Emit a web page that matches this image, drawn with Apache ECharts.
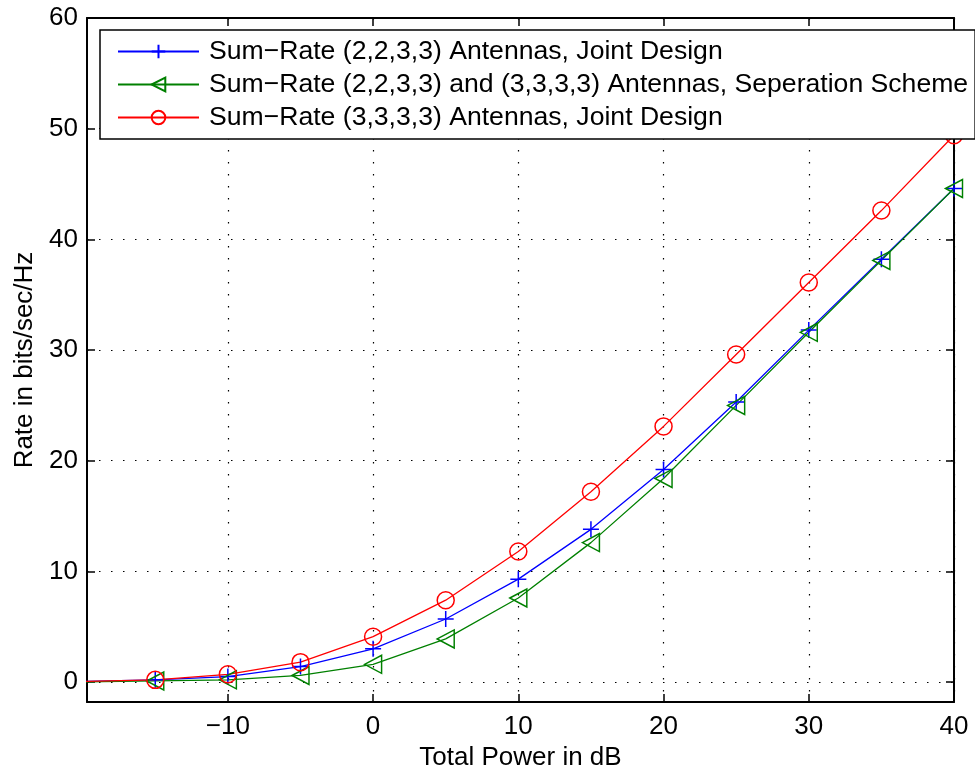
<!DOCTYPE html>
<html lang="en">
<head>
    <meta charset="UTF-8">
    <title>Sum-Rate</title>
    <script src="https://cdn.jsdelivr.net/npm/echarts@6/dist/echarts.min.js"></script>
</head>
<body style="margin:0">
<div id="my" style="width:975px;height:772px"></div>
<script>
    // x: total power in dB
    var powerDb = [-20, -15, -10, -5, 0, 5, 10, 15, 20, 25, 30, 35, 40]
    var joint2233 = [0.05, 0.2, 0.5, 1.4, 3.0, 5.7, 9.3, 13.8, 19.2, 25.3, 31.8, 38.2, 44.6]
    var separation = [0.02, 0.1, 0.2, 0.6, 1.6, 3.9, 7.6, 12.6, 18.4, 25.0, 31.6, 38.1, 44.6]
    var joint3333 = [0.06, 0.2, 0.7, 1.8, 4.1, 7.4, 11.8, 17.2, 23.1, 29.6, 36.1, 42.6, 49.4]
    var xTicks = [-10, 0, 10, 20, 30, 40]
    var yTicks = [0, 10, 20, 30, 40, 50, 60]
    var names = [
        'Sum\u2212Rate (2,2,3,3) Antennas, Joint Design',
        'Sum\u2212Rate (2,2,3,3) and (3,3,3,3) Antennas, Seperation Scheme',
        'Sum\u2212Rate (3,3,3,3) Antennas, Joint Design'
    ]

    var mCharts = echarts.init(document.getElementById('my'))
    var font = 'Liberation Sans, Arial, sans-serif'
    var fs = 26

    function pairs(ys) {
        var out = []
        for (var i = 0; i < ys.length; i++) {
            // the first point sits off the left edge, no marker there
            out.push(i === 0 ? {value: [powerDb[i], ys[i]], symbol: 'none'} : [powerDb[i], ys[i]])
        }
        return out
    }

    function mkSeries(name, ys, color, symbol, size) {
        return {
            name: name,
            type: 'line',
            data: pairs(ys),
            symbol: symbol,
            symbolSize: size,
            showAllSymbol: true,
            clip: true,
            animation: false,
            color: color,
            lineStyle: {color: color, width: 1.3},
            itemStyle: {color: 'rgba(0,0,0,0)', borderColor: color, borderWidth: 1.5}
        }
    }

    var gridLine = {show: true, lineStyle: {color: '#000', type: [1.5, 10.5], width: 1.2}}
    var tick = {show: true, inside: true, length: 8, lineStyle: {color: '#000', width: 1.5}}
    var line = {show: true, onZero: false, lineStyle: {color: '#000', width: 2}}

    var option = {
        backgroundColor: '#fff',
        textStyle: {fontFamily: font},
        grid: {left: 87, right: 21, top: 18, bottom: 70, containLabel: false, outerBoundsMode: 'none'},
        legend: {
            orient: 'vertical',
            left: 100, top: 30,
            padding: [8, 7, 8, 17],
            itemGap: 6,
            itemWidth: 81, itemHeight: 17,
            backgroundColor: '#fff',
            borderColor: '#000', borderWidth: 1.5,
            textStyle: {fontSize: 26.6, color: '#000', fontFamily: font, padding: [0, 0, 0, 5]},
            data: names
        },
        xAxis: [{
            type: 'value', min: -19.7, max: 40,
            name: 'Total Power in dB', nameLocation: 'middle', nameGap: 42,
            nameTextStyle: {fontSize: fs, color: '#000'},
            axisLine: line,
            axisTick: Object.assign({customValues: xTicks}, tick),
            axisLabel: {customValues: xTicks, fontSize: fs, color: '#000', margin: 12,
                formatter: function (v) { return v < 0 ? '\u2212' + (-v) : v }},
            splitLine: gridLine
        }, {
            type: 'value', min: -19.7, max: 40, position: 'top',
            axisLine: line,
            axisTick: Object.assign({customValues: xTicks}, tick),
            axisLabel: {show: false},
            splitLine: {show: false}
        }],
        yAxis: [{
            type: 'value', min: -1.8, max: 60,
            name: 'Rate in bits/sec/Hz', nameLocation: 'middle', nameGap: 49,
            nameTextStyle: {fontSize: fs, color: '#000'},
            axisLine: line,
            axisTick: Object.assign({customValues: yTicks}, tick),
            axisLabel: {customValues: yTicks, fontSize: fs, color: '#000', margin: 9},
            splitLine: gridLine
        }, {
            type: 'value', min: -1.8, max: 60, position: 'right',
            axisLine: line,
            axisTick: Object.assign({customValues: yTicks}, tick),
            axisLabel: {show: false},
            splitLine: {show: false}
        }],
        series: [
            mkSeries(names[0], joint2233, '#0000ff', 'path://M0,-1L0,1M-1,0L1,0', 16),
            mkSeries(names[1], separation, '#008000', 'path://M0,5L10,0L10,10Z', [17, 18]),
            mkSeries(names[2], joint3333, '#ff0000', 'circle', 17)
        ]
    }
    mCharts.setOption(option)
</script>
</body>
</html>
